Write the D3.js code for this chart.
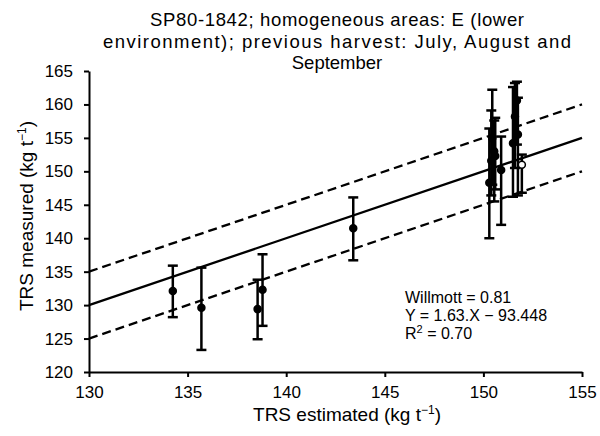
<!DOCTYPE html>
<html>
<head>
<meta charset="utf-8">
<script src="https://cdn.jsdelivr.net/npm/d3@7"></script>
<style>
  body { margin: 0; background: #fff; }
  text { font-family: "Liberation Sans", Arial, sans-serif; fill: #000; }
</style>
</head>
<body>
<div id="chart"></div>
<script>
const w = 600,
      h = 436;

const margin = {top: 71, right: 18, bottom: 64, left: 89};

// data
const estimated = [134.25, 135.7, 138.55, 138.8, 143.4,
                   150.3, 150.4, 150.45, 150.55, 150.6, 150.9,
                   151.5, 151.6, 151.7, 151.75, 151.95];
const measured  = [132.1, 129.6, 129.4, 132.3, 141.5,
                   148.3, 151.6, 155.0, 153.0, 152.3, 150.2,
                   154.2, 158.2, 160.6, 155.5, 151.0];
const errLow    = [128.2, 123.3, 124.9, 126.9, 136.7,
                   140.0, 146.4, 148.0, 145.5, 147.3, 142.0,
                   146.2, 150.5, 154.0, 146.4, 146.8];
const errHigh   = [135.9, 135.6, 133.8, 137.6, 146.1,
                   156.4, 159.1, 162.2, 157.6, 158.0, 155.2,
                   162.6, 163.2, 163.4, 161.0, 152.5];
const hollow    = [false, false, false, false, false,
                   false, false, false, false, false, false,
                   false, false, false, false, true];

const xTicks = [130, 135, 140, 145, 150, 155];
const yTicks = [120, 125, 130, 135, 140, 145, 150, 155, 160, 165];
const refLine = [130, 155];   // 1:1 line
const band = 5;               // dashed lines +/- 5

const titleLines = ["SP80-1842; homogeneous areas: E (lower",
                    "environment); previous harvest: July, August and",
                    "September"];
const titleWidths = [374, 468, null];
const notes = ["Willmott = 0.81", "Y = 1.63.X \u2212 93.448", "R2 = 0.70"];

const iw = w - margin.left - margin.right,
      ih = h - margin.top - margin.bottom;

const svg = d3.select("#chart")
  .append("svg")
  .attr("width", w)
  .attr("height", h);

const g = svg.append("g")
  .attr("transform", "translate(" + margin.left + "," + margin.top + ")");

const x = d3.scaleLinear().domain([130, 155]).range([0, iw]);
const y = d3.scaleLinear().domain([120, 165]).range([ih, 0]);

// reference lines
const lineGen = d3.line().x(d => x(d[0])).y(d => y(d[1]));
[0, band, -band].forEach(off => {
  g.append("path")
    .datum(refLine.map(v => [v, v + off]))
    .attr("d", lineGen)
    .attr("fill", "none")
    .attr("stroke", "#000")
    .attr("stroke-width", 2.3)
    .attr("stroke-dasharray", off === 0 ? null : "9,5");
});

// axes
const xAxis = d3.axisBottom(x).tickValues(xTicks).tickSize(5).tickSizeOuter(0).tickPadding(9);
const yAxis = d3.axisLeft(y).tickValues(yTicks).tickSize(5).tickSizeOuter(0).tickPadding(11);

const gx = g.append("g")
  .attr("transform", "translate(0," + ih + ")")
  .call(xAxis);
const gy = g.append("g").call(yAxis);

[gx, gy].forEach(a => {
  a.select(".domain").attr("stroke", "#000").attr("stroke-width", 2);
  a.selectAll(".tick line").attr("stroke", "#000").attr("stroke-width", 2);
  a.selectAll(".tick text").style("font-size", "17px").attr("fill", "#000");
});

// error bars
const pts = estimated.map((e, i) => ({x: e, y: measured[i], lo: errLow[i], hi: errHigh[i], open: hollow[i]}));

const eb = g.append("g").selectAll("g")
  .data(pts)
  .enter()
  .append("g");

eb.append("line")
  .attr("x1", d => x(d.x)).attr("x2", d => x(d.x))
  .attr("y1", d => y(d.lo)).attr("y2", d => y(d.hi))
  .attr("stroke", "#000").attr("stroke-width", 2.5);

eb.append("line")
  .attr("x1", d => x(d.x) - 5).attr("x2", d => x(d.x) + 5)
  .attr("y1", d => y(d.lo)).attr("y2", d => y(d.lo))
  .attr("stroke", "#000").attr("stroke-width", 2.5);

eb.append("line")
  .attr("x1", d => x(d.x) - 5).attr("x2", d => x(d.x) + 5)
  .attr("y1", d => y(d.hi)).attr("y2", d => y(d.hi))
  .attr("stroke", "#000").attr("stroke-width", 2.5);

g.append("g").selectAll("circle")
  .data(pts)
  .enter()
  .append("circle")
  .attr("cx", d => x(d.x))
  .attr("cy", d => y(d.y))
  .attr("r", 3.5)
  .attr("fill", d => d.open ? "#fff" : "#000")
  .attr("stroke", "#000")
  .attr("stroke-width", 1.5);

// title
svg.append("g").selectAll("text")
  .data(titleLines)
  .enter()
  .append("text")
  .attr("text-anchor", "middle")
  .style("font-size", "18.5px")
  .attr("x", 337)
  .attr("y", (d, i) => 26 + i * 21.5)
  .attr("textLength", (d, i) => titleWidths[i])
  .attr("lengthAdjust", (d, i) => titleWidths[i] ? "spacing" : null)
  .text(d => d);

// annotation
const note = svg.append("text")
  .style("font-size", "16px");
notes.forEach((t, i) => {
  const ts = note.append("tspan")
    .attr("x", 405)
    .attr("y", 303 + i * 18);
  if (t.startsWith("R2")) {
    ts.text("R");
    ts.append("tspan").attr("dy", -6).style("font-size", "11px").text("2");
    ts.append("tspan").attr("dy", 6).text(" = 0.70");
  } else {
    ts.text(t);
  }
});

// axis titles
const xt = svg.append("text")
  .attr("x", 347)
  .attr("y", 421)
  .attr("text-anchor", "middle")
  .style("font-size", "19px")
  .text("TRS estimated (kg t");
xt.append("tspan").attr("dy", -7).style("font-size", "12px").text("\u22121");
xt.append("tspan").attr("dy", 7).text(")");

const yt = svg.append("text")
  .attr("transform", "translate(33," + 216 + ") rotate(-90)")
  .attr("text-anchor", "middle")
  .style("font-size", "19px")
  .text("TRS measured (kg t");
yt.append("tspan").attr("dy", -7).style("font-size", "12px").text("\u22121");
yt.append("tspan").attr("dy", 7).text(")");
</script>
</body>
</html>
